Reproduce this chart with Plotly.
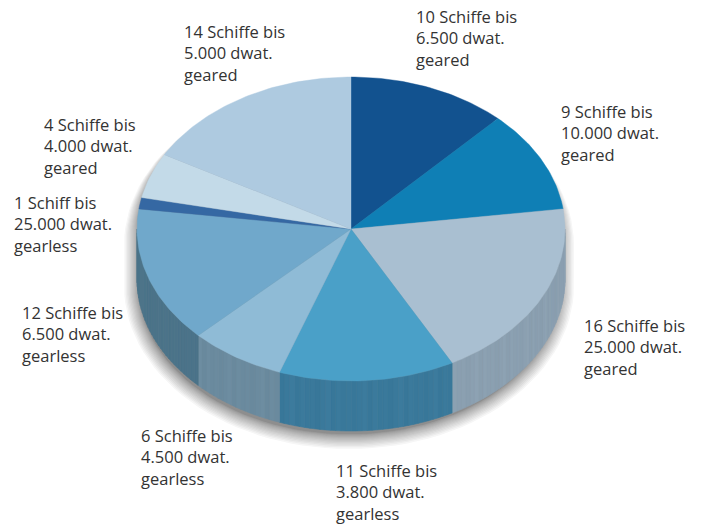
import math
import plotly.graph_objects as go

# Data, clockwise from twelve o'clock
ship_counts = [10, 9, 16, 11, 6, 12, 1, 4, 14]
ship_labels = [
    "10 Schiffe bis<br>6.500 dwat.<br>geared",
    "9 Schiffe bis<br>10.000 dwat.<br>geared",
    "16 Schiffe bis<br>25.000 dwat.<br>geared",
    "11 Schiffe bis<br>3.800 dwat.<br>gearless",
    "6 Schiffe bis<br>4.500 dwat.<br>gearless",
    "12 Schiffe bis<br>6.500 dwat.<br>gearless",
    "1 Schiff bis<br>25.000 dwat.<br>gearless",
    "4 Schiffe bis<br>4.000 dwat.<br>geared",
    "14 Schiffe bis<br>5.000 dwat.<br>geared",
]
top_colors = ["#12528f", "#0f7fb5", "#a9bfd1", "#4aa0c8", "#8fbbd6",
              "#70a8cb", "#3568a3", "#c3dae8", "#aecae0"]
side_colors = ["#0e4a78", "#2a6f92", "#8a9fb0", "#39789a", "#6a8a9e",
               "#4b7389", "#2a5580", "#8fa8b8", "#8fa8b8"]

# Layout (pixel space of the 701x524 page)
label_x = [415, 560, 583, 335, 140, 21, 13, 43, 183]
label_y = [38, 133, 347, 492, 457, 334, 224, 146, 53]
CX, CY, RX, RY, DEPTH = 351, 229, 214, 152, 50


def rim(deg, grow=0.0, dy=0.0):
    a = math.radians(deg)
    return CX + (RX + grow) * math.sin(a), CY + dy - (RY + grow) * math.cos(a)


def shade(hex_color, delta):
    vals = [int(hex_color[i:i + 2], 16) for i in (1, 3, 5)]
    vals = [max(0, min(255, v + delta)) for v in vals]
    return "#%02x%02x%02x" % tuple(vals)


fig = go.Figure()


def poly(xs, ys, color, line_color=None, line_width=0.6):
    fig.add_trace(go.Scatter(
        x=xs, y=ys, mode="lines", fill="toself", fillcolor=color,
        line=dict(color=line_color or color, width=line_width),
        hoverinfo="skip", showlegend=False))


# Soft shadow: stacked translucent outlines of the extruded body
for step in range(16):
    grow = 15 * (1 - step / 15) ** 1.5 - 4
    xs, ys = [], []
    for d in range(0, 361, 3):
        if 90 < d < 270:
            x, y = rim(d, grow, DEPTH + 7)
        else:
            x, y = rim(d, grow, grow + 5)
        xs.append(x - 2)
        ys.append(y)
    poly(xs, ys, "rgba(30,30,30,0.04)", "rgba(0,0,0,0)", 0)

total = sum(ship_counts)
edges = [0.0]
for count in ship_counts:
    edges.append(edges[-1] + 360.0 * count / total)

# Cylinder wall, only the part facing the viewer
for i, count in enumerate(ship_counts):
    start, end = max(edges[i], 90.0), min(edges[i + 1], 270.0)
    if end <= start:
        continue
    n = max(1, int((end - start) / 1.4))
    for k in range(n):
        a0 = start + (end - start) * k / n
        a1 = start + (end - start) * (k + 1) / n
        x0, y0 = rim(a0)
        x1, y1 = rim(a1)
        tone = [0, 2, -1, 3, 1, -1, 1][k % 7] if i in (2, 3, 4) else 0
        c = shade(side_colors[i], tone)
        poly([x0, x1, x1, x0, x0], [y0, y1, y1 + DEPTH, y0 + DEPTH, y0], c)

# Top face
for i, count in enumerate(ship_counts):
    n = max(2, int(edges[i + 1] - edges[i]))
    xs, ys = [CX], [CY]
    for k in range(n + 1):
        x, y = rim(edges[i] + (edges[i + 1] - edges[i]) * k / n)
        xs.append(x)
        ys.append(y)
    xs.append(CX)
    ys.append(CY)
    poly(xs, ys, top_colors[i], top_colors[i], 0.4)

for text, x, y in zip(ship_labels, label_x, label_y):
    fig.add_annotation(x=x, y=y, text=text, showarrow=False, xanchor="left",
                       yanchor="middle", align="left", borderpad=0,
                       font=dict(family="Open Sans", size=16.5, color="#333333"))

fig.update_layout(
    width=701, height=524, margin=dict(l=0, r=0, t=0, b=0),
    paper_bgcolor="white", plot_bgcolor="white", showlegend=False,
    xaxis=dict(range=[0, 701], visible=False, fixedrange=True),
    yaxis=dict(range=[524, 0], visible=False, fixedrange=True),
)
fig.write_html("out.html", config={"displayModeBar": False},
               post_script="document.body.style.margin='0';document.body.style.overflow='hidden';")
